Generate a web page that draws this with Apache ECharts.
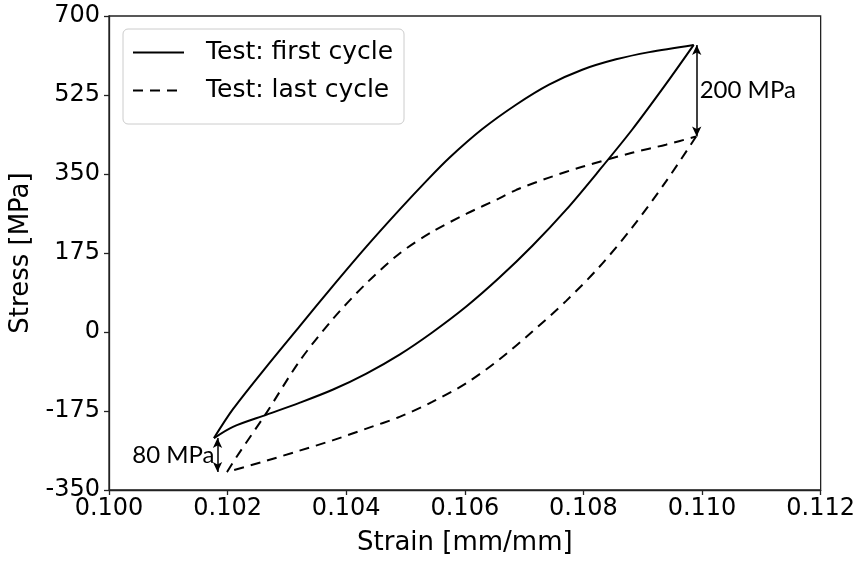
<!DOCTYPE html>
<html>
<head>
<meta charset="utf-8">
<script src="https://cdn.jsdelivr.net/npm/echarts@6/dist/echarts.min.js"></script>
<style>html,body{margin:0;padding:0;background:#fff}#c{width:858px;height:561px}</style>
</head>
<body>
<div id="c"></div>
<script>
// ---- data ----
const firstLoadStrain   = [0.10177,0.10209,0.10266,0.10321,0.10377,0.10434,0.10490,0.10537,0.10574,0.10629,0.10687,0.10742,0.10798,0.10855,0.10911,0.10986];
const firstLoadStress   = [-235,-171,-76,12,101,189,271,337,386,449,504,548,581,604,620,636];
const firstUnloadStrain = [0.10986,0.10939,0.10882,0.10826,0.10771,0.10714,0.10658,0.10603,0.10545,0.10490,0.10434,0.10377,0.10321,0.10266,0.10209,0.10177];
const firstUnloadStress = [636,549,448,357,271,191,120,57,-1,-50,-92,-128,-157,-183,-210,-235];
const lastLoadStrain    = [0.10199,0.10215,0.10266,0.10321,0.10377,0.10434,0.10490,0.10545,0.10603,0.10658,0.10687,0.10742,0.10798,0.10882,0.10939,0.10990];
const lastLoadStress    = [-310,-277,-178,-65,28,108,174,222,262,296,315,342,366,397,415,433];
const lastUnloadStrain  = [0.10990,0.10939,0.10882,0.10826,0.10771,0.10714,0.10658,0.10603,0.10545,0.10490,0.10434,0.10377,0.10321,0.10266,0.10199];
const lastUnloadStress  = [433,333,231,143,69,1,-61,-113,-155,-188,-214,-240,-263,-285,-310];

const xTicks = [0.100,0.102,0.104,0.106,0.108,0.110,0.112];
const yTicks = [-350,-175,0,175,350,525,700];
const seriesNames = ['Test: first cycle','Test: last cycle'];

// annotations: strain, stress top, stress bottom, text, side
const annStrain = [0.10991, 0.10183];
const annTop    = [636, -235];
const annBottom = [433, -310];
const annText   = ['200 MPa', '80 MPa'];
const annSide   = ['right', 'left'];

function pairs(xs, ys){ return xs.map((x,i)=>[x, ys[i]]); }

const chart = echarts.init(document.getElementById('c'), null, {renderer:'canvas'});
const base = 'DejaVu Sans';
const lineW = 2;
const dash = [10, 7];
const axisColor = '#222';

const arrowLines = annStrain.map((s,i)=>[{coord:[s, annTop[i]]},{coord:[s, annBottom[i]]}]);
const annLabels = annStrain.map((s,i)=>({
  value:[s,(annTop[i]+annBottom[i])/2],
  name: annText[i],
  label:{position: annSide[i]}
}));

function lineSeries(name, xs, ys, type){
  return {name:name,type:'line',data:pairs(xs,ys),showSymbol:false,symbol:'none',smooth:0.3,
    lineStyle:{color:'#000',width:lineW,type:type},itemStyle:{color:'#000'}};
}

chart.setOption({
  animation:false,
  backgroundColor:'#fff',
  grid:{left:109,right:36,top:16,bottom:70,show:true,borderColor:axisColor,borderWidth:1.3,containLabel:false},
  legend:{
    data:seriesNames,
    orient:'vertical',
    left:123, top:29,
    padding:[11,11,21,9],
    itemWidth:51, itemHeight:24, itemGap:13,
    backgroundColor:'rgba(255,255,255,0.8)',
    borderColor:'#cccccc', borderWidth:1, borderRadius:5,
    itemStyle:{opacity:0},
    textStyle:{fontFamily:base,fontSize:25,color:'#000',lineHeight:24,padding:[0,0,0,17]}
  },
  xAxis:{
    type:'value', min:xTicks[0], max:xTicks[xTicks.length-1], interval:0.002,
    name:'Strain [mm/mm]', nameLocation:'middle', nameGap:40,
    nameTextStyle:{fontFamily:base,fontSize:26,color:'#000'},
    axisLine:{show:true,onZero:false,lineStyle:{color:axisColor,width:1.3}},
    axisTick:{show:true,inside:false,length:5,lineStyle:{color:axisColor,width:1.3}},
    axisLabel:{fontFamily:base,fontSize:24,color:'#000',margin:7,formatter:v=>v.toFixed(3)},
    splitLine:{show:false}
  },
  yAxis:{
    type:'value', min:yTicks[0], max:yTicks[yTicks.length-1], interval:175,
    name:'Stress [MPa]', nameLocation:'middle', nameGap:74,
    nameTextStyle:{fontFamily:base,fontSize:26,color:'#000'},
    axisLine:{show:true,onZero:false,lineStyle:{color:axisColor,width:1.3}},
    axisTick:{show:true,inside:false,length:5,lineStyle:{color:axisColor,width:1.3}},
    axisLabel:{fontFamily:base,fontSize:24,color:'#000',margin:9},
    splitLine:{show:false}
  },
  series:[
    lineSeries(seriesNames[0], firstLoadStrain, firstLoadStress, 'solid'),
    lineSeries(seriesNames[0], firstUnloadStrain, firstUnloadStress, 'solid'),
    lineSeries(seriesNames[1], lastLoadStrain, lastLoadStress, dash),
    lineSeries(seriesNames[1], lastUnloadStrain, lastUnloadStress, dash),
    {name:'annotations',type:'scatter',data:annLabels,symbolSize:0,silent:true,
     itemStyle:{opacity:1,color:'#000'},
     label:{show:true,formatter:p=>p.name,fontFamily:'Lato',fontSize:24,color:'#000',opacity:1,distance:3},
     markLine:{silent:true,symbol:['arrow','arrow'],symbolSize:[7,10],
       label:{show:false},
       lineStyle:{color:'#000',width:1.5,type:'solid',opacity:1},
       data:arrowLines}
    }
  ]
});
</script>
</body>
</html>
